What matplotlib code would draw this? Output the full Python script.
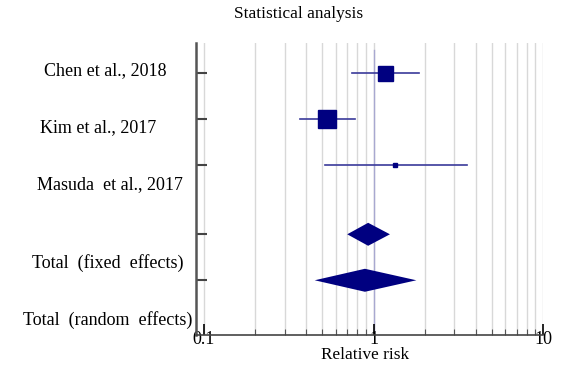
import matplotlib.pyplot as plt
import matplotlib
import numpy as np

plt.rcParams['font.family'] = ['Liberation Serif', 'DejaVu Serif']

# studies: relative risk, lower / upper 95% CI, marker size (px)
studies = ['Chen et al., 2018', 'Kim et al., 2017', 'Masuda  et al., 2017']
rr = [1.17, 0.53, 1.34]
ci_low = [0.75, 0.37, 0.52]
ci_high = [1.85, 0.78, 3.55]
box_px = [15, 18, 5]

# pooled estimates
totals = ['Total  (fixed  effects)', 'Total  (random  effects)']
tot_rr = [0.93, 0.89]
tot_low = [0.70, 0.45]
tot_high = [1.25, 1.79]

rows = [0, 1, 2]
tot_rows = [3.5, 4.5]
label_y = [-0.07, 1.17, 2.43, 4.12, 5.36]
label_x = [105, 98, 110, 108, 108]

navy = '#000080'

fig = plt.figure(figsize=(5.81, 3.76), dpi=100)
ax = fig.add_axes([196/581, 1-335/376, (543-196)/581, (335-43)/376])
ax.set_xscale('log')
ax.set_xlim(10**(-1-8/169.5), 10)
ax.set_ylim(5.69, -0.66)

# grid lines
for v in list(np.arange(1, 10)*0.1) + list(np.arange(1, 11)):
    ax.axvline(v, color='#d8d8d8', lw=1, zorder=0)
ax.plot([1, 1], [-0.5, 5.69], color='#a8a8d0', lw=1, zorder=1)

for r, m, lo, hi, s in zip(rows, rr, ci_low, ci_high, box_px):
    ax.plot([lo, hi], [r, r], color='#3a3a9a', lw=1.2, zorder=2)
    ax.plot(m, r, marker='s', ms=s*0.72, color=navy, mec=navy, zorder=3)

for r, m, lo, hi in zip(tot_rows, tot_rr, tot_low, tot_high):
    h = 0.25
    ax.fill([lo, m, hi, m], [r, r-h, r, r+h], color=navy, zorder=3, lw=0)

for sp in ['top', 'right']:
    ax.spines[sp].set_visible(False)
ax.spines['left'].set_color('#555555')
ax.spines['left'].set_linewidth(1.8)
ax.spines['bottom'].set_color('#444444')
ax.spines['bottom'].set_linewidth(1.2)

ax.set_yticks(rows + tot_rows)
ax.set_yticklabels([])
ax.tick_params(axis='y', direction='in', length=8, width=1.5, color='#444444')

ax.set_xticks([0.1, 1, 10])
ax.set_xticklabels(['0.1', '1', '10'])
ax.tick_params(axis='x', which='major', direction='in', length=8, width=1.2,
               pad=-3, labelsize=13)
ax.tick_params(axis='x', which='minor', direction='in', length=4, width=0.8,
               color='#555555')
ax.xaxis.set_minor_formatter(matplotlib.ticker.NullFormatter())

tr = matplotlib.transforms.blended_transform_factory(fig.transFigure, ax.transData)
for name, yy, xx in zip(studies + totals, label_y, label_x):
    ax.text(xx/581, yy, name, transform=tr, ha='center', va='center', fontsize=13)

fig.text(298.5/581, 1-14/376, 'Statistical analysis', ha='center', va='center', fontsize=12.4)
fig.text(365.5/581, 1-355/376, 'Relative risk', ha='center', va='center', fontsize=12.4)

fig.savefig('out.png', dpi=100)
